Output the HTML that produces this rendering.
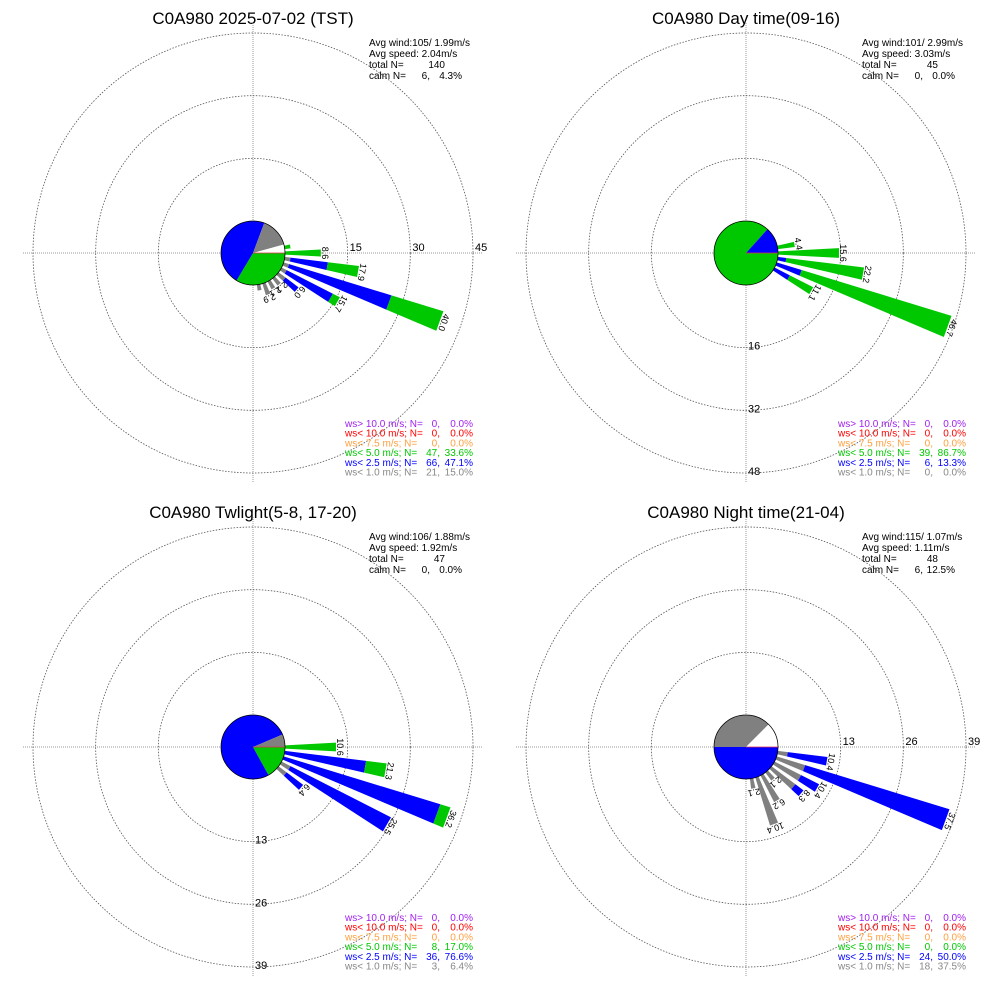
<!DOCTYPE html>
<html><head><meta charset="utf-8"><style>
html,body{margin:0;padding:0;background:#fff}
svg{display:block;font-family:"Liberation Sans",sans-serif}
</style></head><body>
<svg id="s" width="1000" height="1000" xmlns="http://www.w3.org/2000/svg"></svg>
<script>
const S=document.getElementById('s');const NS='http://www.w3.org/2000/svg';
function el(t,a,txt){const e=document.createElementNS(NS,t);for(const k in a)e.setAttribute(k,a[k]);if(txt!==undefined)e.textContent=txt;S.appendChild(e);return e;}
const COL=['#808080','#0000ff','#00c800'];
const R0=32,RO=220;
const panels=[
{ox:0,oy:0,title:'C0A980 2025-07-02 (TST)',max:45,ticks:[15,30,45],tpos:'e',
 stats:['105/ 1.99m/s','2.04m/s','140',['6,','4.3%']],
 pie:[.336,.471,.15,.043],
 leg:[['0,','0.0%'],['0,','0.0%'],['0,','0.0%'],['47,','33.6%'],['66,','47.1%'],['21,','15.0%']],
 bars:[[80,[0,0,1.4],''],[90,[0,0,8.6],'8.6'],[100,[1.4,9,7.5],'17.9'],[110,[1.4,25.6,13],'40.0'],[120,[1.4,12.4,1.9],'15.7'],[130,[2.1,3.9,0],'6.0'],[140,[2.1,0,0],'2.1'],[150,[2.1,0,0],'2.1'],[160,[2.9,0,0],'2.9'],[170,[1.4,0,0],'']]},
{ox:493,oy:0,title:'C0A980 Day time(09-16)',max:48,ticks:[16,32,48],tpos:'s',
 stats:['101/ 2.99m/s','3.03m/s','45',['0,','0.0%']],
 pie:[.867,.133,0,0],
 leg:[['0,','0.0%'],['0,','0.0%'],['0,','0.0%'],['39,','86.7%'],['6,','13.3%'],['0,','0.0%']],
 bars:[[80,[0,0,4.4],'4.4'],[90,[0,0,15.6],'15.6'],[100,[0,2.2,20],'22.2'],[110,[0,6.7,40],'46.7'],[120,[0,4.4,6.7],'11.1']]},
{ox:0,oy:494,title:'C0A980 Twlight(5-8, 17-20)',max:39,ticks:[13,26,39],tpos:'s',
 stats:['106/ 1.88m/s','1.92m/s','47',['0,','0.0%']],
 pie:[.17,.766,.064,0],
 leg:[['0,','0.0%'],['0,','0.0%'],['0,','0.0%'],['8,','17.0%'],['36,','76.6%'],['3,','6.4%']],
 bars:[[90,[0,0,10.6],'10.6'],[100,[0,17,4.3],'21.3'],[110,[0,34,2.2],'36.2'],[120,[2.1,23.4,0],'25.5'],[130,[2.1,4.3,0],'6.4']]},
{ox:493,oy:494,title:'C0A980 Night time(21-04)',max:39,ticks:[13,26,39],tpos:'e',
 stats:['115/ 1.07m/s','1.11m/s','48',['6,','12.5%']],
 pie:[0,.5,.375,.125],
 leg:[['0,','0.0%'],['0,','0.0%'],['0,','0.0%'],['0,','0.0%'],['24,','50.0%'],['18,','37.5%']],
 bars:[[100,[2.1,8.3,0],'10.4'],[110,[6.2,31.3,0],'37.5'],[120,[6.2,4.2,0],'10.4'],[130,[6.2,2.1,0],'8.3'],[140,[2.1,0,0],'2.1'],[150,[6.2,0,0],'6.2'],[160,[10.4,0,0],'10.4'],[170,[2.1,0,0],'2.1']]}
];
function P(cx,cy,r,a){const t=a*Math.PI/180;return [cx+r*Math.sin(t),cy-r*Math.cos(t)];}
const legTxt=['ws> 10.0 m/s; N=','ws< 10.0 m/s; N=','ws<  7.5 m/s; N=','ws<  5.0 m/s; N=','ws<  2.5 m/s; N=','ws<  1.0 m/s; N='];
const legCol=['#a020f0','#ff0000','#ffa040','#00c800','#0000ff','#888888'];
panels.forEach(p=>{
 const cx=253+p.ox,cy=253+p.oy,s=(RO-R0)/p.max;
 el('text',{x:cx,y:24+p.oy,'font-size':17,'text-anchor':'middle'},p.title);
 el('line',{x1:cx-RO-10,y1:cy,x2:cx+RO+10,y2:cy,stroke:'#999','stroke-width':1,'stroke-dasharray':'1,1'});
 el('line',{x1:cx,y1:cy-RO-10,x2:cx,y2:cy+RO+10,stroke:'#999','stroke-width':1,'stroke-dasharray':'1,1'});
 p.ticks.forEach(t=>{const r=R0+t*s;el('circle',{cx,cy,r,fill:'none',stroke:'#555','stroke-width':0.8,'stroke-dasharray':'1.5,1.5'});
  if(p.tpos=='e')el('text',{x:cx+r+2,y:cy-2,'font-size':11},t);else el('text',{x:cx+2,y:cy+r+2,'font-size':11},t);});
 p.bars.forEach(b=>{let r=R0;const a=b[0],hw=3;
  b[1].forEach((v,i)=>{if(v<=0)return;const r2=r+v*s;
   const p1=P(cx,cy,r,a-hw),p2=P(cx,cy,r2,a-hw),p3=P(cx,cy,r2,a+hw),p4=P(cx,cy,r,a+hw);
   el('polygon',{points:[p1,p2,p3,p4].map(q=>q.join(',')).join(' '),fill:COL[i]});r=r2;});
  if(b[2]){const q=P(cx,cy,r+1,a);el('text',{x:q[0],y:q[1],'font-size':9,'text-anchor':'middle',transform:`rotate(${a} ${q[0]} ${q[1]})`},b[2]);}
 });
 const pc=['#00c800','#0000ff','#808080','#ffffff'];let ang=90;
 p.pie.forEach((f,i)=>{if(f<=0)return;const a2=ang+f*360;const A=P(cx,cy,R0,ang),B=P(cx,cy,R0,a2);
  el('path',{d:`M${cx},${cy} L${A[0]},${A[1]} A${R0},${R0} 0 ${f>0.5?1:0} 1 ${B[0]},${B[1]} Z`,fill:pc[i]});ang=a2;});
 el('circle',{cx,cy,r:R0,fill:'none',stroke:'#000','stroke-width':0.8});
 el('line',{x1:cx,y1:cy,x2:cx+R0,y2:cy,stroke:'#e03050','stroke-width':0.8});
 const sx=cx+116,sy=46+p.oy;
 el('text',{x:sx,y:sy,'font-size':10},'Avg wind:'+p.stats[0]);
 el('text',{x:sx,y:sy+11,'font-size':10},'Avg speed: '+p.stats[1]);
 el('text',{x:sx,y:sy+22,'font-size':10},'total N=');
 el('text',{x:sx+76,y:sy+22,'font-size':10,'text-anchor':'end'},p.stats[2]);
 el('text',{x:sx,y:sy+33,'font-size':10},'calm N=');
 el('text',{x:sx+61,y:sy+33,'font-size':10,'text-anchor':'end'},p.stats[3][0]);
 el('text',{x:sx+93,y:sy+33,'font-size':10,'text-anchor':'end'},p.stats[3][1]);
 const lx=cx+92,ly=427+p.oy;
 legTxt.forEach((t,i)=>{const y=ly+i*9.7;
  el('text',{x:lx,y,'font-size':10,fill:legCol[i],'xml:space':'preserve'},t);
  el('text',{x:lx+95,y,'font-size':10,fill:legCol[i],'text-anchor':'end'},p.leg[i][0]);
  el('text',{x:lx+128,y,'font-size':10,fill:legCol[i],'text-anchor':'end'},p.leg[i][1]);});
});
</script>
</body></html>
